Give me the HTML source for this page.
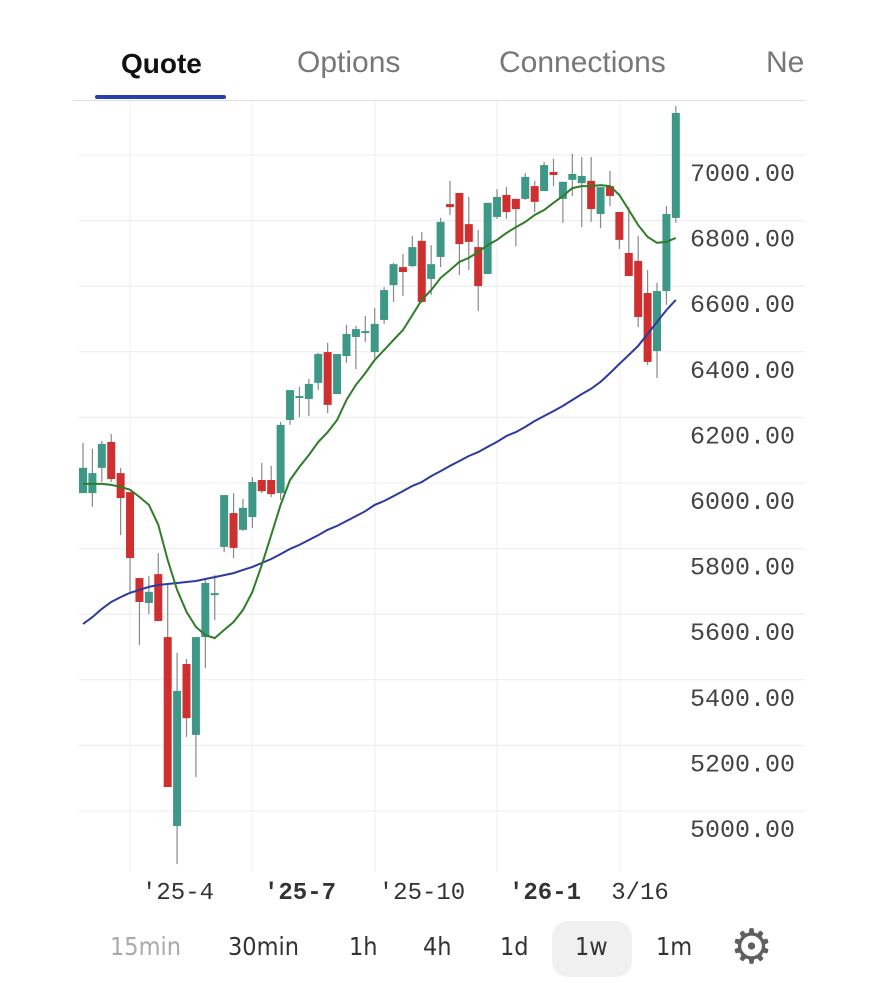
<!DOCTYPE html>
<html><head><meta charset="utf-8"><style>
body{margin:0;background:#fff;width:877px;height:1000px;overflow:hidden;font-family:"Liberation Sans",sans-serif;}
.tab{position:absolute;top:46px;font-size:30px;color:#777;}
.tf{position:absolute;top:932px;font-size:25px;color:#333;font-family:"DejaVu Sans Condensed","Liberation Sans",sans-serif;}
</style></head><body>
<div class="tab" style="left:121px;color:#111;font-weight:bold;font-size:28px;top:48px;">Quote</div>
<div class="tab" style="left:297px;">Options</div>
<div class="tab" style="left:499px;">Connections</div>
<div class="tab" style="left:766px;width:37px;overflow:hidden;white-space:nowrap;">News</div>
<div style="position:absolute;left:95px;top:95px;width:131px;height:4px;border-radius:2px;background:#2a3fae;"></div>
<div style="position:absolute;left:73px;top:100px;width:732px;height:1px;background:#ddd;"></div>
<svg id="chart" width="877" height="1000" style="position:absolute;left:0;top:0;"></svg>
<div class="tf" style="left:110px;color:#aaa;">15min</div>
<div class="tf" style="left:228px;">30min</div>
<div class="tf" style="left:349px;">1h</div>
<div class="tf" style="left:423px;">4h</div>
<div class="tf" style="left:500px;">1d</div>
<div style="position:absolute;left:552px;top:921px;width:80px;height:56px;border-radius:16px;background:#f0f0f0;"></div>
<div class="tf" style="left:575px;">1w</div>
<div class="tf" style="left:656px;">1m</div>
<div style="position:absolute;left:730px;top:924px;font-size:48px;line-height:48px;color:#5f5f5f;">⚙</div>
<script>
const opens=[6021,6021,6098,6177,6082,6024,5762,5686,5774,5582,5006,5500,5284,5582,5710,5857,5960,5909,5948,6061,6061,6021,6244,6311,6308,6357,6451,6323,6439,6497,6509,6451,6549,6655,6710,6713,6790,6674,6741,6902,6936,6841,6771,6689,6863,6930,6918,6918,6957,6942,7000,6918,6976,6966,6973,6872,6957,6878,6753,6729,6631,6454,6637,6860];
const highs=[6174,6156,6180,6201,6098,6024,5762,5768,5838,5747,5534,5515,5582,5756,5771,6015,6021,6003,6070,6113,6104,6238,6335,6345,6369,6448,6479,6445,6534,6531,6561,6585,6649,6723,6750,6805,6817,6777,6860,6973,6936,6924,6823,6906,6948,6954,6918,6997,6973,7031,7040,6970,7055,7046,7046,6954,7003,6878,6893,6805,6701,6662,6896,7201];
const lows=[6021,5979,6055,6055,5893,5720,5558,5652,5631,5125,4890,5278,5155,5488,5634,5841,5823,5906,5915,6021,6009,6000,6229,6253,6256,6335,6265,6323,6418,6399,6482,6433,6537,6604,6622,6710,6601,6625,6710,6869,6686,6701,6576,6689,6857,6857,6774,6915,6878,6942,6957,6845,6927,6832,6848,6829,6896,6765,6683,6527,6412,6372,6595,6845];
const closes=[6098,6082,6171,6064,6006,5823,5689,5720,5631,5125,5418,5335,5582,5747,5716,6015,5854,5976,6055,6027,6018,6229,6335,6317,6354,6445,6290,6445,6506,6521,6515,6537,6640,6719,6695,6771,6604,6719,6848,6893,6780,6787,6652,6906,6924,6878,6887,6985,6909,7021,6991,6970,6994,6988,6887,6954,6927,6793,6683,6558,6421,6637,6872,7180];
const maShort=[6049,6049,6049,6046,6040,6031,6009,5985,5924,5817,5726,5659,5613,5588,5579,5604,5628,5665,5720,5802,5893,5985,6061,6101,6137,6177,6207,6244,6305,6351,6387,6427,6457,6488,6518,6564,6610,6640,6677,6701,6726,6738,6756,6777,6793,6814,6832,6848,6869,6884,6906,6927,6951,6957,6957,6960,6957,6930,6884,6838,6802,6784,6787,6799];
const maLong=[5622,5643,5668,5689,5704,5717,5726,5735,5741,5744,5747,5750,5753,5759,5765,5771,5777,5787,5796,5808,5820,5835,5851,5863,5878,5893,5909,5921,5936,5951,5966,5985,5997,6012,6027,6043,6055,6073,6088,6104,6119,6134,6146,6162,6177,6195,6207,6223,6241,6256,6271,6287,6305,6323,6339,6360,6387,6415,6442,6470,6506,6543,6579,6610];
const yTicks=[7000,6800,6600,6400,6200,6000,5800,5600,5400,5200,5000];
const xLabels=["'25-4","'25-7","'25-10","'26-1","3/16"];
const xLabelPos=[178,300,422,545,640];
const xLabelBold=[false,true,false,true,false];

const svg=document.getElementById('chart');
const NS='http://www.w3.org/2000/svg';
const xS=i=>83+i*9.41;
const yS=v=>172+(7000-v)*0.328;
function mk(t,a){const e=document.createElementNS(NS,t);for(const k in a)e.setAttribute(k,a[k]);svg.appendChild(e);return e;}
[130,252,375,497,620].forEach(x=>{
  const g=mk('line',{x1:x,x2:x,y1:101,y2:872,stroke:'#efefef','stroke-width':1});
  
  
});
yTicks.forEach(t=>{
  const y=yS(t);
  const g=mk('line',{x1:78,x2:805,y1:y-17,y2:y-17,stroke:'#ececec','stroke-width':1});
  
  
  const tx=mk('text',{x:690,y:y+9,'font-size':25,fill:'#444','font-family':'"Liberation Mono",monospace'});
  tx.textContent=t.toFixed(2);
  
  
});
xLabels.forEach((l,i)=>{
  const tx=mk('text',{x:xLabelPos[i],y:899,'font-size':24,fill:'#333','text-anchor':'middle','font-weight':xLabelBold[i]?'bold':'normal','font-family':'"Liberation Mono",monospace'});
  tx.textContent=l;
  
  
});
opens.forEach((o,i)=>{
  const c=closes[i],up=c>=o,x=xS(i);
  const col=up?'#3e9887':'#cf2f2f';
  const w=mk('line',{x1:x,x2:x,y1:yS(highs[i]),y2:yS(lows[i]),stroke:'#888','stroke-width':1.2});
  
  
  const top=yS(Math.max(o,c)),h=Math.max(2,Math.abs(yS(o)-yS(c)));
  const b=mk('rect',{x:x-4,y:top,width:8,height:h,fill:col});
  
  
});
function line(arr,col,name){
  let d='';arr.forEach((v,i)=>{d+=(i?'L':'M')+xS(i).toFixed(1)+','+yS(v).toFixed(1);});
  const p=mk('path',{d:d,fill:'none',stroke:col,'stroke-width':2});
  
  
}
line(maLong,'#2d3a9e','long-moving-average');
line(maShort,'#2f7d28','short-moving-average');
</script>
</body></html>
